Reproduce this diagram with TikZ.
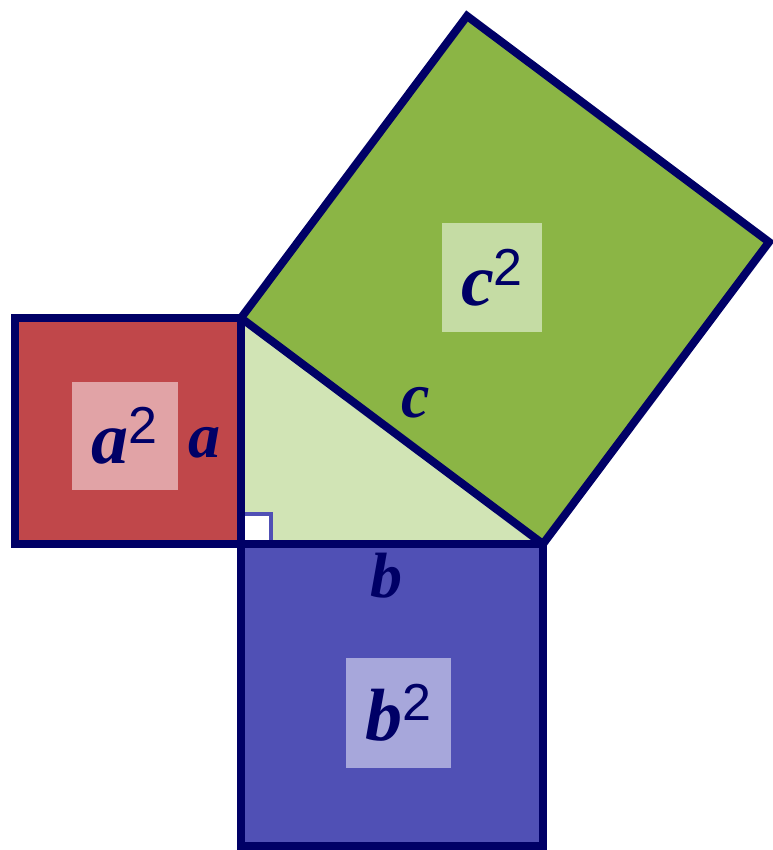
\documentclass[tikz,border=0pt]{standalone}
\usepackage{fontspec}
\setmainfont{Liberation Serif}
\newfontfamily\digitfont{Liberation Sans}
\usetikzlibrary{calc}

\definecolor{edgenavy}{HTML}{000066}
\definecolor{sqred}{HTML}{C0474A}
\definecolor{sqgreen}{HTML}{8BB545}
\definecolor{sqblue}{HTML}{5050B5}
\definecolor{boxred}{HTML}{E1A3A6}
\definecolor{boxgreen}{HTML}{C5DCA4}
\definecolor{boxblue}{HTML}{A7A7DB}
\definecolor{trigreen}{HTML}{D1E4B5}

% 平方标签：粗斜体字母加无衬线上标 2
\newcommand{\sqlabel}[1]{{\fontsize{74}{74}\selectfont\bfseries\itshape #1}%
  \raisebox{20pt}{\fontsize{52}{52}\selectfont\digitfont 2}}

\begin{document}
\begin{tikzpicture}[x=1pt, y=1pt, line join=miter,
  edge/.style={draw=edgenavy, line width=8pt},
  sqbox/.style={inner sep=0pt, minimum width=106pt, minimum height=108pt, text=edgenavy},
  sidelabel/.style={text=edgenavy, font=\fontsize{64}{64}\selectfont\bfseries\itshape}]
  \useasboundingbox (0,0) rectangle (772,850);
  % 两直角边长度 a、b
  \def\lena{226}
  \def\lenb{302}

  % 直角三角形顶点
  \coordinate (C) at (241, 306);
  \coordinate (A) at ($(C)+(0,\lena)$);
  \coordinate (B) at ($(C)+(\lenb,0)$);
  \coordinate (A2) at ($(A)+(\lena,\lenb)$);
  \coordinate (B2) at ($(B)+(\lena,\lenb)$);

  % 三个正方形
  \fill[sqred] ($(C)+(-\lena,0)$) rectangle (A);
  \fill[sqblue] ($(C)+(0,-\lenb)$) rectangle (B);
  \fill[sqgreen] (A) -- (B) -- (B2) -- (A2) -- cycle;
  % 三角形
  \fill[trigreen] (C) -- (B) -- (A) -- cycle;

  % 直角标记
  \draw[draw=sqblue, fill=white, line width=4pt] (C) rectangle ++(30,30);

  % 轮廓
  \draw[edge] ($(C)+(-\lena,0)$) rectangle (A);
  \draw[edge] ($(C)+(0,-\lenb)$) rectangle (B);
  \draw[edge] (A) -- (B) -- (B2) -- (A2) -- cycle;

  % 面积标签
  \node[sqbox, fill=boxred] (asq) at (124.5, 414) {\sqlabel{a}};
  \node[sqbox, fill=boxgreen, minimum width=100pt, minimum height=109pt] (csq) at (492, 572.5) {\sqlabel{c}};
  \node[sqbox, fill=boxblue, minimum width=105pt, minimum height=110pt] (bsq) at (398.5, 137) {\sqlabel{b}};

  % 边长标签
  \node[sidelabel] (alab) at (204, 407) {a};
  \node[sidelabel] (blab) at (386, 274) {b};
  \node[sidelabel] (clab) at (416, 447) {c};
\end{tikzpicture}
\end{document}
